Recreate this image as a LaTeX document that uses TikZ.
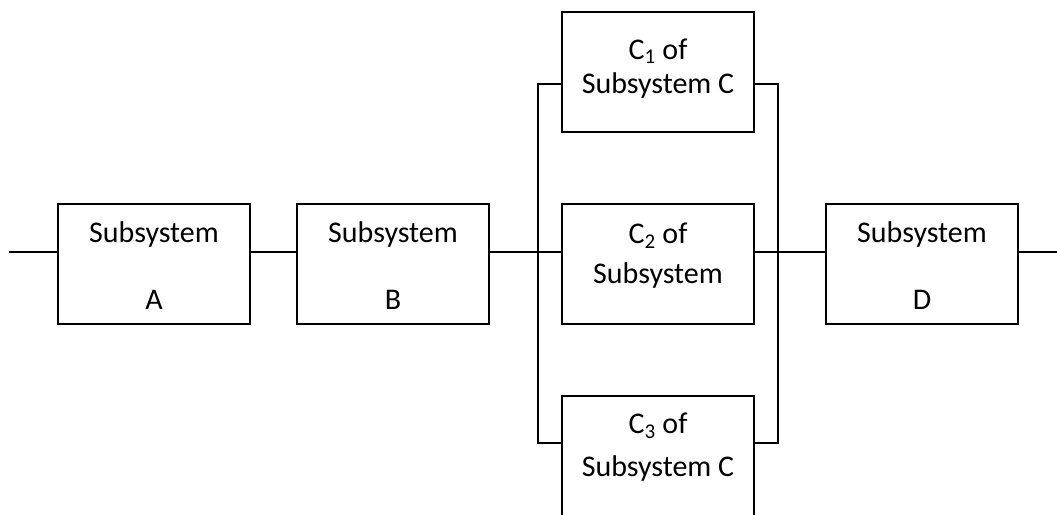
\documentclass[tikz,border=0pt]{standalone}
\usepackage{fontspec}
\setmainfont{Carlito}
\usetikzlibrary{calc}
\begin{document}
\begin{tikzpicture}[x=1pt,y=-1pt,
  box/.style={draw,line width=2pt,minimum width=192pt,minimum height=120pt,inner sep=0pt},
  lbl/.style={anchor=base,inner sep=0pt,font=\fontsize{30}{36}\selectfont},
  wire/.style={line width=2pt}]
\useasboundingbox (0,0) rectangle (1057,514);
% boxes
\node[box] (A) at (154,264) {};
\node[box] (B) at (393,264) {};
\node[box] (C1) at (658,72) {};
\node[box] (C2) at (658,264) {};
\node[box] (C3) at (658,456) {};
\node[box] (D) at (922,264) {};
% labels
\node[lbl] (tA1) at (154,242) {Subsystem};
\node[lbl] (tA2) at (154,309) {A};
\node[lbl] (tB1) at (393,242) {Subsystem};
\node[lbl] (tB2) at (393,309) {B};
\node[lbl] (tC11) at (658,59) {C\textsubscript{1} of};
\node[lbl] (tC12) at (658,93) {Subsystem C};
\node[lbl] (tC21) at (658,243) {C\textsubscript{2} of};
\node[lbl] (tC22) at (658,283) {Subsystem};
\node[lbl] (tC31) at (658,433) {C\textsubscript{3} of};
\node[lbl] (tC32) at (658,476) {Subsystem C};
\node[lbl] (tD1) at (922,242) {Subsystem};
\node[lbl] (tD2) at (922,309) {D};
% coordinates
\coordinate (in) at (9,252);
\coordinate (out) at (1057,252);
\coordinate (bl1) at (538,84);
\coordinate (bl2) at (538,252);
\coordinate (bl3) at (538,443);
\coordinate (br1) at (778,84);
\coordinate (br2) at (778,252);
\coordinate (br3) at (778,443);
% wires
\draw[wire] (in) -- (in -| A.west);
\draw[wire] (A.east |- in) -- (B.west |- in);
\draw[wire] (B.east |- in) -- (bl2) -- (C2.west |- in);
\draw[wire] (C2.east |- in) -- (br2) -- (D.west |- in);
\draw[wire] (D.east |- in) -- (out);
\draw[wire] (C1.west |- bl1) -- (bl1) -- (bl3) -- (C3.west |- bl3);
\draw[wire] (C1.east |- br1) -- (br1) -- (br3) -- (C3.east |- br3);
\end{tikzpicture}
\end{document}
